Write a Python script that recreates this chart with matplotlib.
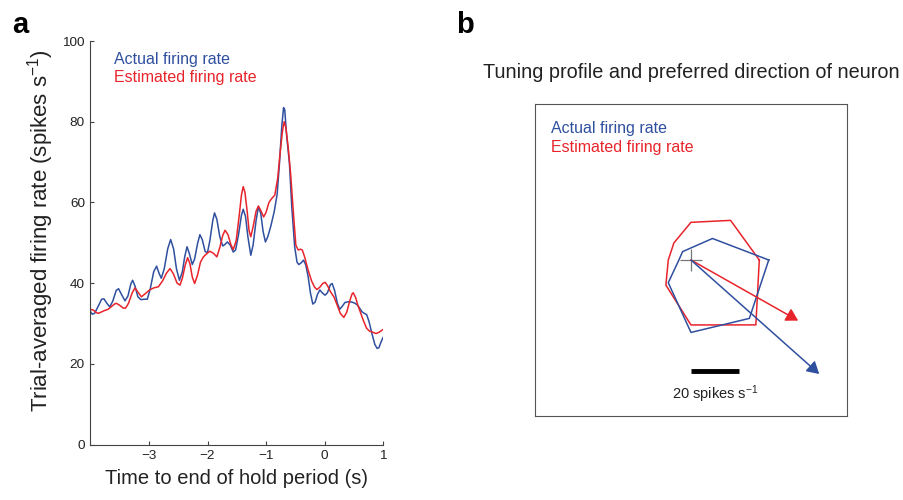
import numpy as np
import matplotlib
matplotlib.use("Agg")
import matplotlib.pyplot as plt

plt.rcParams['font.family'] = ['Liberation Sans', 'DejaVu Sans']
plt.rcParams['mathtext.fontset'] = 'custom'
plt.rcParams['mathtext.rm'] = 'Liberation Sans'
plt.rcParams['mathtext.it'] = 'Liberation Sans:italic'

# panel a: trial-averaged firing rate
t_actual = [-4.00, -3.97, -3.93, -3.87, -3.81, -3.77, -3.72, -3.67, -3.62, -3.56,
            -3.52, -3.47, -3.41, -3.36, -3.31, -3.28, -3.24, -3.19, -3.14, -3.08,
            -3.03, -2.98, -2.92, -2.87, -2.83, -2.79, -2.74, -2.68, -2.63, -2.58,
            -2.53, -2.48, -2.43, -2.39, -2.35, -2.31, -2.26, -2.22, -2.17, -2.13,
            -2.09, -2.04, -2.00, -1.96, -1.91, -1.88, -1.84, -1.79, -1.74, -1.70,
            -1.66, -1.61, -1.56, -1.52, -1.47, -1.42, -1.39, -1.35, -1.31, -1.26,
            -1.22, -1.17, -1.13, -1.09, -1.05, -1.01, -0.97, -0.92, -0.86, -0.81,
            -0.77, -0.73, -0.70, -0.68, -0.65, -0.60, -0.56, -0.51, -0.47, -0.44,
            -0.40, -0.36, -0.32, -0.28, -0.24, -0.20, -0.16, -0.12, -0.08, -0.04,
            0.01, 0.05, 0.10, 0.13, 0.17, 0.22, 0.26, 0.30, 0.35, 0.41,
            0.47, 0.52, 0.56, 0.60, 0.64, 0.68, 0.72, 0.76, 0.81, 0.86,
            0.90, 0.93, 0.96, 1.00]
rate_actual = [32.9, 32.3, 32.5, 34.2, 36.0, 36.1, 35.0, 34.1, 35.5, 38.2,
               38.6, 37.2, 35.6, 36.8, 39.8, 40.7, 39.3, 36.6, 35.9, 36.0,
               36.0, 38.5, 42.8, 44.2, 42.5, 41.2, 43.5, 48.5, 50.8, 48.5,
               43.5, 40.7, 42.8, 46.5, 49.0, 47.3, 44.6, 46.0, 49.8, 52.0,
               50.8, 47.8, 47.6, 50.5, 55.5, 57.4, 55.8, 51.5, 49.2, 49.6,
               50.2, 49.4, 47.7, 48.2, 52.0, 56.8, 58.3, 56.5, 51.5, 46.9,
               49.5, 55.5, 58.9, 57.3, 52.8, 50.2, 51.5, 54.0, 57.7, 62.0,
               69.7, 79.0, 83.5, 83.0, 77.0, 69.7, 59.0, 49.0, 45.2, 44.6,
               45.0, 45.7, 44.5, 41.6, 37.5, 34.8, 35.3, 37.2, 38.3, 37.6,
               37.0, 37.6, 39.6, 39.9, 38.3, 35.0, 33.5, 34.2, 35.2, 35.4,
               35.3, 35.0, 34.6, 33.8, 32.9, 32.5, 32.2, 30.5, 27.5, 24.8,
               23.8, 24.0, 25.2, 26.5]

t_est = [-4.00, -3.95, -3.90, -3.87, -3.82, -3.76, -3.70, -3.64, -3.59, -3.56,
         -3.50, -3.44, -3.40, -3.35, -3.29, -3.24, -3.19, -3.13, -3.07, -2.99,
         -2.92, -2.84, -2.77, -2.70, -2.64, -2.58, -2.52, -2.47, -2.43, -2.38,
         -2.34, -2.30, -2.26, -2.22, -2.17, -2.12, -2.07, -2.02, -1.96, -1.90,
         -1.84, -1.79, -1.74, -1.70, -1.65, -1.60, -1.56, -1.51, -1.46, -1.42,
         -1.39, -1.36, -1.32, -1.29, -1.26, -1.22, -1.17, -1.13, -1.09, -1.04,
         -1.00, -0.95, -0.90, -0.85, -0.80, -0.76, -0.72, -0.69, -0.66, -0.62,
         -0.58, -0.53, -0.49, -0.45, -0.41, -0.38, -0.34, -0.28, -0.22, -0.17,
         -0.13, -0.08, -0.03, 0.01, 0.05, 0.10, 0.16, 0.21, 0.27, 0.33,
         0.38, 0.43, 0.47, 0.49, 0.53, 0.57, 0.62, 0.67, 0.72, 0.77,
         0.83, 0.88, 0.93, 0.97, 1.00]
rate_est = [33.5, 33.3, 32.7, 32.5, 32.8, 33.2, 33.5, 34.2, 34.8, 35.0,
            34.5, 33.8, 33.8, 35.0, 37.5, 38.8, 37.8, 36.6, 37.3, 38.3,
            38.8, 39.1, 40.5, 42.5, 43.6, 42.2, 40.0, 39.5, 41.2, 44.5,
            46.3, 44.8, 41.5, 39.9, 42.0, 45.2, 46.5, 47.2, 47.9, 47.4,
            46.5, 48.8, 51.8, 53.1, 52.0, 49.5, 48.3, 50.5, 56.5, 61.8,
            63.9, 62.5, 57.5, 53.0, 51.5, 54.0, 57.8, 59.1, 58.0, 56.4,
            57.5, 60.0, 61.0, 61.8, 66.0, 72.1, 77.5, 80.0, 78.5, 73.5,
            67.2, 57.0, 49.4, 48.2, 48.4, 48.2, 46.5, 43.2, 40.5, 39.0,
            38.4, 39.0, 39.9, 40.2, 39.4, 37.9, 36.6, 34.8, 32.5, 31.5,
            32.8, 35.5, 37.3, 37.6, 36.5, 34.5, 32.5, 30.5, 28.8, 28.1,
            27.8, 27.5, 27.8, 28.2, 28.5]

# panel b: tuning profile, 8 reach directions (spikes/s, radius from centre)
directions_deg = [0, 45, 90, 135, 180, 225, 270, 315]
tuning_actual = [32.2, 12.6, 5.0, 4.9, 5.0, 13.3, 30.0, 34.2]
tuning_est = [28.3, 23.2, 15.6, 10.0, 9.4, 14.7, 26.9, 38.0]
pd_actual = (53.1, -47.2)
pd_est = (44.4, -25.1)
scale_bar = 20

blue = '#2f4f9f'
red = '#e8242b'
axis_gray = '#444444'

fig = plt.figure(figsize=(9.04, 5.0), dpi=100)

# ---- panel a ----
ax = fig.add_axes([0.1001, 0.111, 0.3236, 0.807])
ax.plot(t_actual, rate_actual, color=blue, lw=1.1)
ax.plot(t_est, rate_est, color=red, lw=1.1)
ax.set_xlim(-4, 1)
ax.set_ylim(0, 100)
ax.set_xticks([-3, -2, -1, 0, 1])
ax.set_yticks([0, 20, 40, 60, 80, 100])
for s in ['top', 'right']:
    ax.spines[s].set_visible(False)
for s in ['left', 'bottom']:
    ax.spines[s].set_color(axis_gray)
    ax.spines[s].set_linewidth(0.8)
ax.tick_params(direction='in', length=3, width=0.8, color=axis_gray,
               labelsize=9.7, labelcolor='#222222', pad=4)
ax.set_xlabel('Time to end of hold period (s)', fontsize=14.5, color='#222222', labelpad=5)
ax.set_ylabel('Trial-averaged firing rate (spikes s$^{-1}$)', fontsize=16,
              color='#222222')
ax.yaxis.set_label_coords(-0.118, 0.53)
ax.text(0.08, 0.955, 'Actual firing rate', color=blue, fontsize=11.5,
        transform=ax.transAxes, va='center')
ax.text(0.08, 0.91, 'Estimated firing rate', color=red, fontsize=11.5,
        transform=ax.transAxes, va='center')

fig.text(0.013, 0.934, 'a', fontsize=21, fontweight='bold', va='baseline')
fig.text(0.505, 0.934, 'b', fontsize=21, fontweight='bold', va='baseline')

# ---- panel b ----
bx = fig.add_axes([0.5918, 0.168, 0.3451, 0.624])
lim = 64.6
bx.set_xlim(-lim, lim)
bx.set_ylim(-lim, lim)
bx.set_xticks([])
bx.set_yticks([])
for s in bx.spines.values():
    s.set_color('#555555')
    s.set_linewidth(0.8)

th = np.deg2rad(directions_deg + [directions_deg[0]])
ra = np.array(tuning_actual + [tuning_actual[0]])
re = np.array(tuning_est + [tuning_est[0]])
bx.plot(re * np.cos(th), re * np.sin(th), color=red, lw=1.1)
bx.plot(ra * np.cos(th), ra * np.sin(th), color=blue, lw=1.1)

bx.plot([0], [0], marker='+', markersize=16, mew=0.9, color='#777777')

head = '-|>,head_length=0.6,head_width=0.35'
bx.annotate('', xy=pd_est, xytext=(0, 0),
            arrowprops=dict(arrowstyle=head, color=red, lw=1.1,
                            mutation_scale=12, shrinkA=0, shrinkB=0))
bx.annotate('', xy=pd_actual, xytext=(0, 0),
            arrowprops=dict(arrowstyle=head, color=blue, lw=1.1,
                            mutation_scale=12, shrinkA=0, shrinkB=0))

bx.plot([0, scale_bar], [-46.1, -46.1], color='black', lw=3.5, solid_capstyle='butt')
bx.text(scale_bar / 2, -55.5, '%d spikes s$^{-1}$' % scale_bar, fontsize=10.5,
        ha='center', va='center', color='#222222')

bx.text(0.05, 0.92, 'Actual firing rate', color=blue, fontsize=11.5,
        transform=bx.transAxes, va='center')
bx.text(0.05, 0.862, 'Estimated firing rate', color=red, fontsize=11.5,
        transform=bx.transAxes, va='center')

fig.text(0.7644, 0.854, 'Tuning profile and preferred direction of neuron',
         fontsize=14.3, ha='center', va='center', color='#222222')

fig.savefig('out.png', dpi=100)
